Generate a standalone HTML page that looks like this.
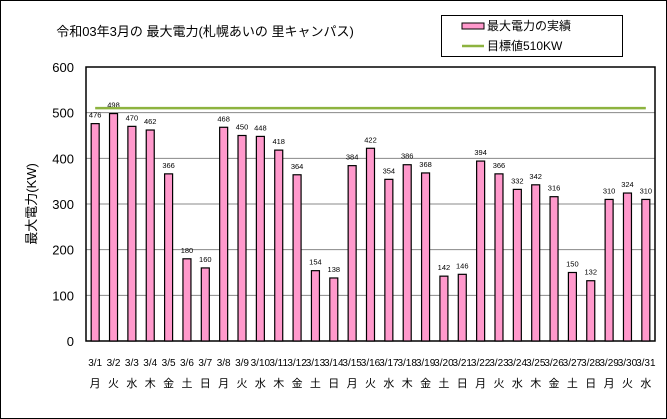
<!DOCTYPE html>
<html><head><meta charset="utf-8"><style>
body{margin:0;background:#fff}
svg{display:block;font-family:"Liberation Sans","Noto Sans CJK JP",sans-serif}
</style></head><body>
<svg id="c" width="667" height="419" viewBox="0 0 667 419">
<rect x="0.5" y="0.5" width="666" height="418" fill="#fff" stroke="#000"/>
<text x="205" y="36" font-size="13" text-anchor="middle" fill="#000">令和03年3月の 最大電力(札幌あいの 里キャンパス)</text>
<g>
<rect x="441.5" y="15.5" width="181" height="41" fill="#fff" stroke="#000"/>
<rect x="462" y="23" width="22" height="6" fill="#ff99cc" stroke="#000"/>
<text x="487" y="30" font-size="12">最大電力の実績</text>
<line x1="462" y1="46" x2="484" y2="46" stroke="#8db33f" stroke-width="2.5"/>
<text x="487" y="50" font-size="12">目標値510KW</text>
</g>
<text transform="translate(36,204) rotate(-90)" font-size="13" text-anchor="middle">最大電力(KW)</text>
<g id="grid"></g><g id="bars"></g><g id="labels"></g>
</svg>
<script>
const categories=["3/1","3/2","3/3","3/4","3/5","3/6","3/7","3/8","3/9","3/10","3/11","3/12","3/13","3/14","3/15","3/16","3/17","3/18","3/19","3/20","3/21","3/22","3/23","3/24","3/25","3/26","3/27","3/28","3/29","3/30","3/31"];
const weekdays=["月","火","水","木","金","土","日","月","火","水","木","金","土","日","月","火","水","木","金","土","日","月","火","水","木","金","土","日","月","火","水"];
const values=[476,498,470,462,366,180,160,468,450,448,418,364,154,138,384,422,354,386,368,142,146,394,366,332,342,316,150,132,310,324,310];
const target=[510];
const yTicks=[0,100,200,300,400,500,600];
const NS="http://www.w3.org/2000/svg";
const L=86,R=655,T=67,B=341,YMAX=600;
const y=v=>B-(v/YMAX)*(B-T);
const step=(R-L)/categories.length;
const x=i=>L+step*(i+0.5);
function mk(t,a,p){const e=document.createElementNS(NS,t);for(const k in a)e.setAttribute(k,a[k]);p.appendChild(e);return e;}
const svg=document.getElementById('c');
const grid=document.getElementById('grid'),bars=document.getElementById('bars'),labels=document.getElementById('labels');
yTicks.forEach(t=>{
 if(t>0&&t<YMAX){const g=mk('line',{x1:L,x2:R,y1:y(t),y2:y(t),stroke:'#888','stroke-width':1},grid);
 
 }
 const tx=mk('text',{x:L-12,y:y(t)+5,'font-size':13,'text-anchor':'end'},grid);tx.textContent=t;
 
 
});
const fr=mk('rect',{x:L,y:T,width:R-L,height:B-T,fill:'none',stroke:'#000','stroke-width':1.5},grid);


values.forEach((v,i)=>{
 const bw=8;
 const b=mk('rect',{x:x(i)-bw/2,y:y(v),width:bw,height:B-y(v),fill:'#ff99cc',stroke:'#000','stroke-width':1.2},bars);
 
 
 const vl=mk('text',{x:x(i),y:y(v)-6,'font-size':7.5,'text-anchor':'middle'},labels);vl.textContent=v;
 
 
 const cl=mk('text',{x:x(i),y:366,'font-size':10,'text-anchor':'middle'},labels);cl.textContent=categories[i];
 
 
 const wl=mk('text',{x:x(i),y:387,'font-size':11,'text-anchor':'middle'},labels);wl.textContent=weekdays[i];
 
 
});
const tl=mk('line',{x1:x(0),x2:x(categories.length-1),y1:y(target[0]),y2:y(target[0]),stroke:'#8db33f','stroke-width':2.5},svg);


</script>
</body></html>
